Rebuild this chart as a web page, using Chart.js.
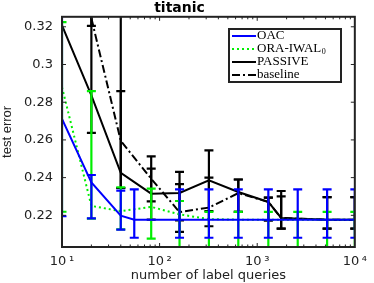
<!DOCTYPE html>
<html>
<head>
<title>titanic</title>
<script src="https://cdn.jsdelivr.net/npm/chart.js"></script>
<style>
  body { margin: 0; background: #fff; }
</style>
</head>
<body>
<canvas id="myChart" width="374" height="283"></canvas>
<script>
// number of label queries (x) and test error readings, one set per method
var oacX  = [10, 20, 40, 55, 160, 320, 640, 1300, 2600, 5200, 10000];
var oacY  = [0.2712, 0.2375, 0.2198, 0.2177, 0.2177, 0.2177, 0.2177, 0.2177, 0.2177, 0.2177, 0.2177];
var oacLo = [0.2195, 0.2184, 0.2124, 0.2081, 0.2081, 0.2081, 0.2081, 0.2081, 0.2081, 0.2081, 0.2081];
var oacHi = [0.34, 0.2414, 0.2331, 0.2338, 0.2338, 0.2338, 0.2338, 0.2338, 0.2338, 0.2338, 0.2338];

var oraX  = [10, 20, 40, 82, 160, 320, 640, 1300, 2600, 5200, 10000];
var oraY  = [0.288, 0.2250, 0.2222, 0.2245, 0.2205, 0.2180, 0.2177, 0.2177, 0.2177, 0.2177, 0.2177];
var oraLo = [0.2219, 0.2182, 0.2125, 0.2076, 0.199, 0.199, 0.199, 0.199, 0.199, 0.199, 0.199];
var oraHi = [0.3225, 0.2859, 0.2349, 0.2342, 0.2276, 0.2218, 0.2218, 0.2218, 0.2218, 0.2218, 0.2218];

var passiveX  = [10, 20, 40, 82, 160, 320, 640, 1300, 1760, 5200, 10000];
var passiveY  = [0.3207, 0.2836, 0.2425, 0.2315, 0.2319, 0.2386, 0.2324, 0.2271, 0.2186, 0.2177, 0.2177];
var passiveLo = [null, 0.2637, 0.2345, 0.2177, 0.2173, 0.2223, 0.2218, 0.2173, 0.2129, 0.2129, 0.2129];
var passiveHi = [null, 0.35, 0.35, 0.2448, 0.2430, 0.2545, 0.2390, 0.2294, 0.2329, 0.2297, 0.2297];

var baseX  = [20, 40, 82, 160, 320, 640, 1300, 1760, 5200, 10000];
var baseY  = [0.3245, 0.2595, 0.2394, 0.2217, 0.2241, 0.2318, 0.2271, 0.2186, 0.2177, 0.2177];
var baseLo = [0.3205, 0.2345, 0.2274, 0.2112, 0.2142, 0.2218, 0.2173, 0.2129, 0.2129, 0.2129];
var baseHi = [0.35, 0.2859, 0.2513, 0.2365, 0.2400, 0.2390, 0.2294, 0.2301, 0.2297, 0.2297];

var xTicks = [10, 100, 1000, 10000];
var yTicks = [0.22, 0.24, 0.26, 0.28, 0.3, 0.32];

var sup = { 1: '\u00b9', 2: '\u00b2', 3: '\u00b3', 4: '\u2074' };

function pts(xs, ys) {
    return xs.map(function (x, i) { return { x: x, y: ys[i] }; });
}

// vertical error bars with caps, drawn right after each line
var errorBars = {
    id: 'errorBars',
    afterDatasetDraw: function (chart, args) {
        var ds = chart.data.datasets[args.index];
        if (!ds.errLo) return;
        var ctx = chart.ctx, a = chart.chartArea;
        var xs = chart.scales.x, ys = chart.scales.y;
        ctx.save();
        ctx.beginPath();
        ctx.rect(a.left, a.top, a.right - a.left, a.bottom - a.top);
        ctx.clip();
        ctx.strokeStyle = ds.borderColor;
        ctx.lineWidth = 2.2;
        ctx.setLineDash([]);
        ds.data.forEach(function (p, i) {
            if (ds.errLo[i] == null) return;
            var px = xs.getPixelForValue(p.x);
            var lo = ys.getPixelForValue(ds.errLo[i]);
            var hi = ys.getPixelForValue(ds.errHi[i]);
            ctx.beginPath();
            ctx.moveTo(px, lo); ctx.lineTo(px, hi);
            ctx.moveTo(px - 4.5, lo); ctx.lineTo(px + 4.5, lo);
            ctx.moveTo(px - 4.5, hi); ctx.lineTo(px + 4.5, hi);
            ctx.stroke();
        });
        ctx.restore();
    }
};

// box, inward ticks and legend
var frame = {
    id: 'frame',
    afterDraw: function (chart) {
        var ctx = chart.ctx, a = chart.chartArea;
        var xs = chart.scales.x, ys = chart.scales.y;
        ctx.save();
        ctx.strokeStyle = '#222';
        ctx.lineWidth = 1;
        ctx.beginPath();
        for (var d = 10; d < 10000; d *= 10) {
            for (var m = 1; m < 10; m++) {
                var px = xs.getPixelForValue(d * m);
                var len = m === 1 ? 4 : 2.5;
                ctx.moveTo(px, a.bottom); ctx.lineTo(px, a.bottom - len);
                ctx.moveTo(px, a.top); ctx.lineTo(px, a.top + len);
            }
        }
        yTicks.forEach(function (v) {
            var py = ys.getPixelForValue(v);
            ctx.moveTo(a.left, py); ctx.lineTo(a.left + 4, py);
            ctx.moveTo(a.right, py); ctx.lineTo(a.right - 4, py);
        });
        ctx.stroke();
        ctx.lineWidth = 2;
        ctx.strokeRect(a.left, a.top, a.right - a.left, a.bottom - a.top);

        // legend
        var lx = 229, ly = 29, lw = 112, lh = 53;
        ctx.fillStyle = '#fff';
        ctx.fillRect(lx, ly, lw, lh);
        ctx.strokeRect(lx, ly, lw, lh);
        var rows = [36, 49, 62, 75];
        chart.data.datasets.forEach(function (ds, i) {
            var y = rows[i];
            ctx.strokeStyle = ds.borderColor;
            ctx.lineWidth = 2;
            ctx.setLineDash(ds.borderDash || []);
            ctx.beginPath();
            ctx.moveTo(232, y); ctx.lineTo(256, y);
            ctx.stroke();
            ctx.setLineDash([]);
            ctx.fillStyle = '#000';
            ctx.textBaseline = 'middle';
            ctx.font = '13px "Liberation Serif"';
            var t = ds.label;
            if (t.slice(-1) === '\u2080') {
                var base = t.slice(0, -1);
                ctx.fillText(base, 257, y);
                var w = ctx.measureText(base).width;
                ctx.font = '8px "Liberation Serif"';
                ctx.fillText('0', 257 + w + 0.5, y + 3);
            } else {
                ctx.fillText(t, 257, y);
            }
        });
        ctx.restore();
    }
};

var ctx = document.getElementById('myChart').getContext('2d');
var chart = new Chart(ctx, {
    type: 'line',
    data: {
        datasets: [{
            label: 'OAC',
            data: pts(oacX, oacY),
            errLo: oacLo, errHi: oacHi,
            borderColor: '#0000ff',
            borderWidth: 2
        }, {
            label: 'ORA-IWAL\u2080',
            data: pts(oraX, oraY),
            errLo: oraLo, errHi: oraHi,
            borderColor: '#00ee00',
            borderWidth: 2,
            borderDash: [2, 3]
        }, {
            label: 'PASSIVE',
            data: pts(passiveX, passiveY),
            errLo: passiveLo, errHi: passiveHi,
            borderColor: '#000000',
            borderWidth: 2
        }, {
            label: 'baseline',
            data: pts(baseX, baseY),
            errLo: baseLo, errHi: baseHi,
            borderColor: '#000000',
            borderWidth: 2,
            borderDash: [8, 3, 2, 3]
        }]
    },
    options: {
        responsive: false,
        animation: false,
        devicePixelRatio: 1,
        clip: 0,
        elements: { point: { radius: 0 }, line: { tension: 0, fill: false } },
        layout: { padding: { right: 15, left: 0, top: 0, bottom: 0 } },
        plugins: {
            legend: { display: false },
            tooltip: { enabled: false },
            title: {
                display: true,
                text: 'titanic',
                color: '#000',
                font: { family: 'DejaVu Sans', size: 14, weight: 'bold', lineHeight: 1.1 },
                padding: { top: 0, bottom: 1 }
            }
        },
        scales: {
            x: {
                type: 'logarithmic',
                min: 10,
                max: 10000,
                grid: { display: false, drawTicks: false },
                border: { display: false },
                afterBuildTicks: function (s) { s.ticks = xTicks.map(function (v) { return { value: v }; }); },
                afterFit: function (s) { s.height = 36; },
                ticks: {
                    color: '#222',
                    padding: 7,
                    maxRotation: 0,
                    autoSkip: false,
                    font: { family: 'DejaVu Sans', size: 13 },
                    callback: function (v) { return '10\u2009' + sup[Math.round(Math.log10(v))]; }
                },
                title: {
                    display: true,
                    text: 'number of label queries',
                    color: '#222',
                    font: { family: 'DejaVu Sans', size: 13 },
                    padding: 0
                }
            },
            y: {
                min: 0.2032,
                max: 0.3253,
                grid: { display: false, drawTicks: false },
                border: { display: false },
                afterBuildTicks: function (s) { s.ticks = yTicks.map(function (v) { return { value: v }; }); },
                afterFit: function (s) { s.width = 62; },
                ticks: {
                    color: '#222',
                    padding: 9,
                    font: { family: 'DejaVu Sans', size: 13 },
                    callback: function (v) { return String(v); }
                },
                title: {
                    display: true,
                    text: 'test error',
                    color: '#222',
                    font: { family: 'Liberation Sans', size: 13 },
                    padding: 0
                }
            }
        }
    },
    plugins: [errorBars, frame]
});
</script>
</body>
</html>
